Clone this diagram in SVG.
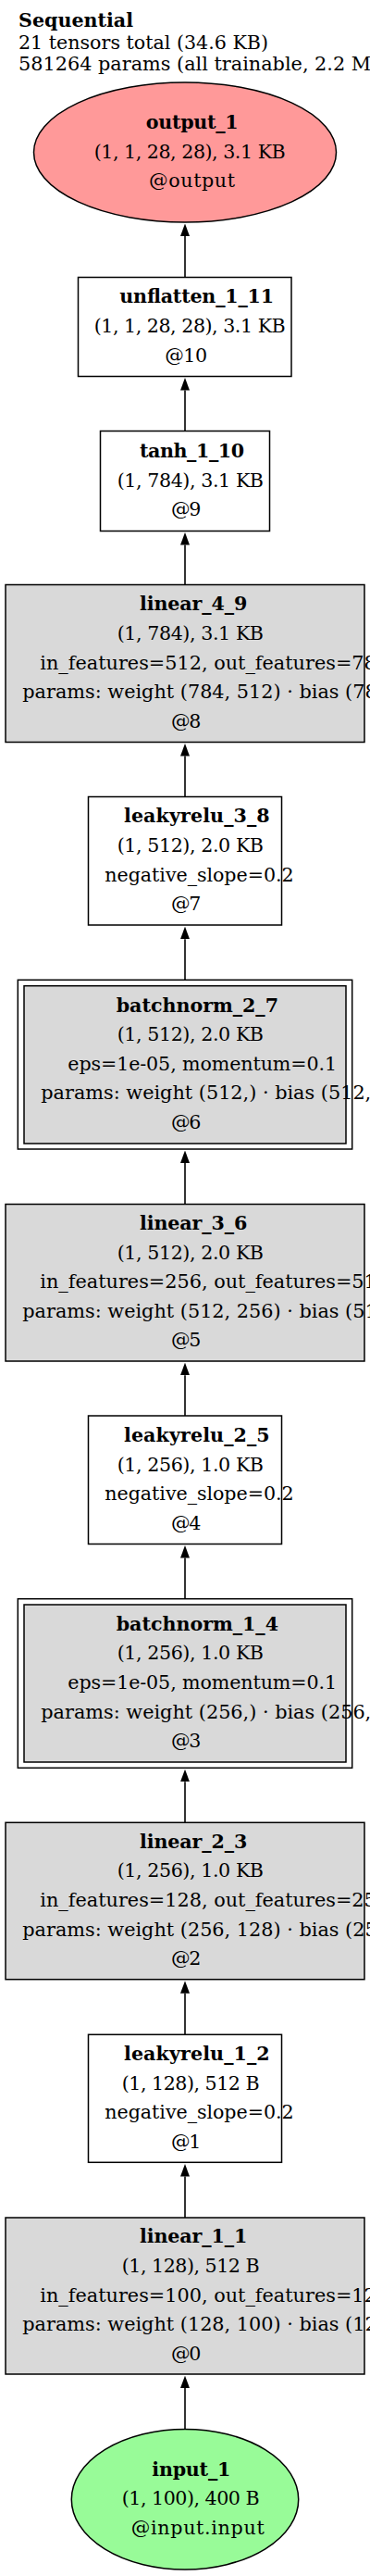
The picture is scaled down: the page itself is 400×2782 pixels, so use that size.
<svg xmlns="http://www.w3.org/2000/svg" width="400" height="2782" viewBox="0 0 400 2782">
<style>
text{font-family:"DejaVu Serif","Liberation Serif",serif;font-size:20.6px;fill:#000}
.b{font-weight:bold}
.box{fill:#fff;stroke:#000;stroke-width:1.5}
.gray{fill:#d9d9d9;stroke:#000;stroke-width:1.5}
.outer{fill:#fff;stroke:#000;stroke-width:1.5}
.edge{stroke:#000;stroke-width:1.6;fill:none}
.w{font-size:20.8px}
</style>
<defs>
<marker id="arr" viewBox="0 0 13.5 10" refX="0" refY="5" markerWidth="13.5" markerHeight="10" markerUnits="userSpaceOnUse" orient="auto">
<path d="M0,0 L13.5,5 L0,10 z" fill="#000"/>
</marker>
</defs>
<rect width="400" height="2782" fill="#fff"/>
<g id="title">
<text x="20" y="29.3" class="b" textLength="124">Sequential</text>
<text x="20" y="52.7" textLength="270">21 tensors total (34.6 KB)</text>
<text x="20" y="76" class="w">581264 params (all trainable, 2.2 MB)</text>
</g>
<g id="edges">
<line class="edge" x1="200" y1="299.5" x2="200" y2="255" marker-end="url(#arr)"/>
<line class="edge" x1="200" y1="465.5" x2="200" y2="421.5" marker-end="url(#arr)"/>
<line class="edge" x1="200" y1="631.5" x2="200" y2="588.5" marker-end="url(#arr)"/>
<line class="edge" x1="200" y1="860.5" x2="200" y2="816.5" marker-end="url(#arr)"/>
<line class="edge" x1="200" y1="1058.3" x2="200" y2="1014.2" marker-end="url(#arr)"/>
<line class="edge" x1="200" y1="1300.5" x2="200" y2="1256" marker-end="url(#arr)"/>
<line class="edge" x1="200" y1="1529" x2="200" y2="1485.2" marker-end="url(#arr)"/>
<line class="edge" x1="200" y1="1726.7" x2="200" y2="1682.5" marker-end="url(#arr)"/>
<line class="edge" x1="200" y1="1968.3" x2="200" y2="1924.3" marker-end="url(#arr)"/>
<line class="edge" x1="200" y1="2197.3" x2="200" y2="2152.8" marker-end="url(#arr)"/>
<line class="edge" x1="200" y1="2395" x2="200" y2="2350.5" marker-end="url(#arr)"/>
<line class="edge" x1="200" y1="2623.4" x2="200" y2="2579.1" marker-end="url(#arr)"/>
</g>
<g id="output_1">
<ellipse cx="200" cy="164.5" rx="163.5" ry="75.5" fill="#ff9999" stroke="#000" stroke-width="1.5"/>
<text x="157.7" y="138.9" class="b" textLength="100">output_1</text>
<text x="101.7" y="170.5" textLength="207">(1, 1, 28, 28), 3.1 KB</text>
<text x="161" y="202.1" textLength="93">@output</text>
</g>
<g id="unflatten_1_11">
<rect class="box" x="84.5" y="299.5" width="230.5" height="107"/>
<text x="129.3" y="327.4" class="b" textLength="166.7">unflatten_1_11</text>
<text x="101.7" y="359" textLength="207">(1, 1, 28, 28), 3.1 KB</text>
<text x="178.3" y="390.6" textLength="45.7">@10</text>
</g>
<g id="tanh_1_10">
<rect class="box" x="108.5" y="465.5" width="183" height="108"/>
<text x="151" y="493.9" class="b" textLength="113">tanh_1_10</text>
<text x="126.7" y="525.5" textLength="158.3">(1, 784), 3.1 KB</text>
<text x="185" y="557.1" textLength="32.3">@9</text>
</g>
<g id="linear_4_9">
<rect class="gray" x="6" y="631.5" width="388" height="170"/>
<text x="151" y="659.3" class="b" textLength="116.3">linear_4_9</text>
<text x="126.7" y="690.9" textLength="158.3">(1, 784), 3.1 KB</text>
<text x="43.3" y="722.5" class="w">in_features=512, out_features=784</text>
<text x="24.3" y="754.1" class="w">params: weight (784, 512) · bias (784,)</text>
<text x="185" y="785.7" textLength="32.3">@8</text>
</g>
<g id="leakyrelu_3_8">
<rect class="box" x="95.5" y="860.5" width="209" height="138.5"/>
<text x="134" y="888.4" class="b" textLength="157.7">leakyrelu_3_8</text>
<text x="126.7" y="920" textLength="158.3">(1, 512), 2.0 KB</text>
<text x="113.3" y="951.6" textLength="204.3">negative_slope=0.2</text>
<text x="185" y="983.2" textLength="32.3">@7</text>
</g>
<g id="batchnorm_2_7">
<rect class="outer" x="19.3" y="1058.3" width="361.4" height="182.7"/>
<rect class="gray" x="26" y="1064.7" width="348" height="170.3"/>
<text x="125.7" y="1092.5" class="b" textLength="175.3">batchnorm_2_7</text>
<text x="126.7" y="1124.1" textLength="158.3">(1, 512), 2.0 KB</text>
<text x="73.3" y="1155.7" textLength="290.7">eps=1e-05, momentum=0.1</text>
<text x="44.3" y="1187.3" class="w">params: weight (512,) · bias (512,)</text>
<text x="185" y="1218.9" textLength="32.3">@6</text>
</g>
<g id="linear_3_6">
<rect class="gray" x="6" y="1300.5" width="388" height="169.5"/>
<text x="151" y="1328" class="b" textLength="116.3">linear_3_6</text>
<text x="126.7" y="1359.6" textLength="158.3">(1, 512), 2.0 KB</text>
<text x="43.3" y="1391.2" class="w">in_features=256, out_features=512</text>
<text x="24.3" y="1422.8" class="w">params: weight (512, 256) · bias (512,)</text>
<text x="185" y="1454.4" textLength="32.3">@5</text>
</g>
<g id="leakyrelu_2_5">
<rect class="box" x="95.5" y="1529" width="209" height="138.5"/>
<text x="134" y="1556.9" class="b" textLength="157.7">leakyrelu_2_5</text>
<text x="126.7" y="1588.5" textLength="158.3">(1, 256), 1.0 KB</text>
<text x="113.3" y="1620.1" textLength="204.3">negative_slope=0.2</text>
<text x="185" y="1651.7" textLength="32.3">@4</text>
</g>
<g id="batchnorm_1_4">
<rect class="outer" x="19.3" y="1726.7" width="361.4" height="182.6"/>
<rect class="gray" x="26" y="1733" width="348" height="170"/>
<text x="125.7" y="1760.8" class="b" textLength="175.3">batchnorm_1_4</text>
<text x="126.7" y="1792.4" textLength="158.3">(1, 256), 1.0 KB</text>
<text x="73.3" y="1824" textLength="290.7">eps=1e-05, momentum=0.1</text>
<text x="44.3" y="1855.6" class="w">params: weight (256,) · bias (256,)</text>
<text x="185" y="1887.2" textLength="32.3">@3</text>
</g>
<g id="linear_2_3">
<rect class="gray" x="6" y="1968.3" width="388" height="169.4"/>
<text x="151" y="1995.8" class="b" textLength="116.3">linear_2_3</text>
<text x="126.7" y="2027.4" textLength="158.3">(1, 256), 1.0 KB</text>
<text x="43.3" y="2059" class="w">in_features=128, out_features=256</text>
<text x="24.3" y="2090.6" class="w">params: weight (256, 128) · bias (256,)</text>
<text x="185" y="2122.2" textLength="32.3">@2</text>
</g>
<g id="leakyrelu_1_2">
<rect class="box" x="95.5" y="2197.3" width="209" height="138"/>
<text x="134" y="2224.9" class="b" textLength="157.7">leakyrelu_1_2</text>
<text x="131.7" y="2256.5" textLength="149">(1, 128), 512 B</text>
<text x="113.3" y="2288.1" textLength="204.3">negative_slope=0.2</text>
<text x="185" y="2319.7" textLength="32.3">@1</text>
</g>
<g id="linear_1_1">
<rect class="gray" x="6" y="2395" width="388" height="169"/>
<text x="151" y="2422.3" class="b" textLength="116.3">linear_1_1</text>
<text x="131.7" y="2453.9" textLength="149">(1, 128), 512 B</text>
<text x="43.3" y="2485.5" class="w">in_features=100, out_features=128</text>
<text x="24.3" y="2517.1" class="w">params: weight (128, 100) · bias (128,)</text>
<text x="185" y="2548.7" textLength="32.3">@0</text>
</g>
<g id="input_1">
<ellipse cx="200" cy="2699.2" rx="122.7" ry="75.8" fill="#98fb98" stroke="#000" stroke-width="1.5"/>
<text x="164.3" y="2673.6" class="b" textLength="85">input_1</text>
<text x="131.7" y="2705.2" textLength="149">(1, 100), 400 B</text>
<text x="141.7" y="2736.8" textLength="144">@input.input</text>
</g>
</svg>
